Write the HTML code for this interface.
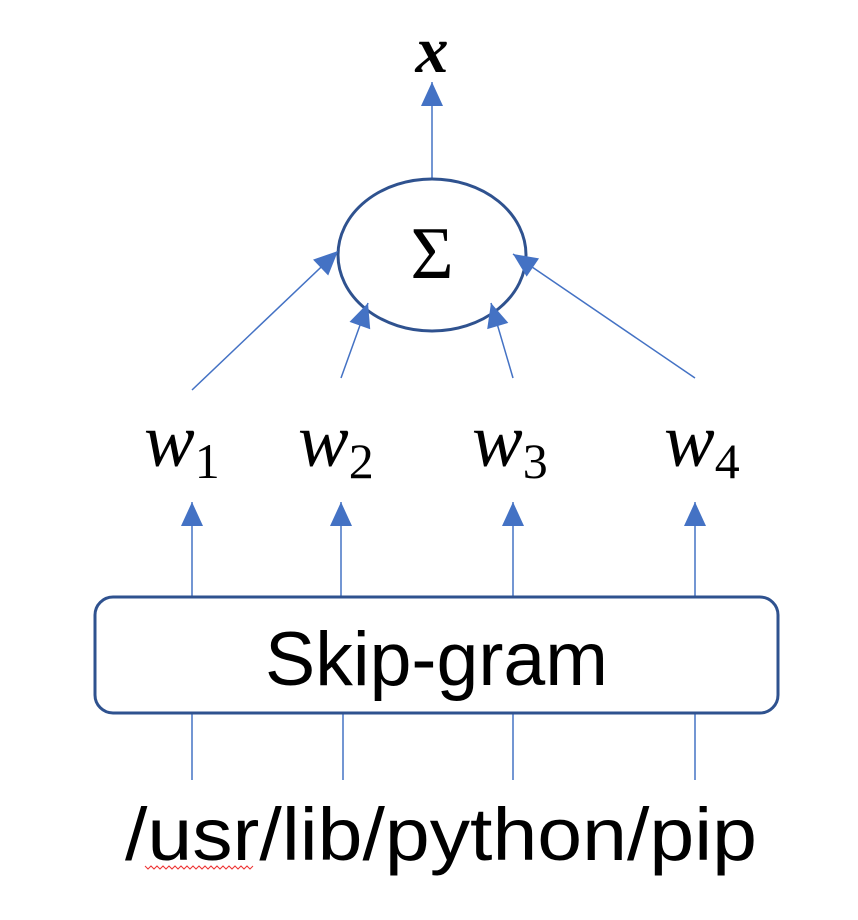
<!DOCTYPE html>
<html><head><meta charset="utf-8"><style>
body{margin:0;background:#fff;}
svg{display:block;}
</style></head><body>
<svg id="dg" width="858" height="920" viewBox="0 0 858 920">
<g id="lines" stroke="#4472C4" stroke-width="1.5" fill="none">
<line x1="432" y1="178" x2="432" y2="82"/>
<line x1="192" y1="390" x2="338" y2="251"/>
<line x1="341" y1="378" x2="368" y2="303"/>
<line x1="513" y1="378" x2="491" y2="303"/>
<line x1="695" y1="378" x2="513" y2="254"/>
<line x1="192" y1="598" x2="192" y2="502"/>
<line x1="341" y1="598" x2="341" y2="502"/>
<line x1="513" y1="598" x2="513" y2="502"/>
<line x1="695" y1="598" x2="695" y2="502"/>
</g>
<g stroke="#4472C4" stroke-width="1.5" fill="none">
<line x1="192" y1="713" x2="192" y2="780"/>
<line x1="343" y1="713" x2="343" y2="780"/>
<line x1="513" y1="713" x2="513" y2="780"/>
<line x1="695" y1="713" x2="695" y2="780"/>
</g>
<ellipse cx="432" cy="255" rx="94" ry="76" fill="none" stroke="#2F528F" stroke-width="3"/>
<g id="heads" fill="#4472C4"></g>
<text x="432" y="278" text-anchor="middle" font-family="Liberation Serif, serif" font-size="74">Σ</text>
<text x="432" y="72" text-anchor="middle" font-family="Liberation Serif, serif" font-style="italic" font-weight="bold" font-size="66">x</text>
<g font-family="Liberation Serif, serif" font-size="76">
<text x="144" y="466"><tspan font-style="italic">w</tspan><tspan font-size="50" dy="12">1</tspan></text>
<text x="298" y="466"><tspan font-style="italic">w</tspan><tspan font-size="50" dy="12">2</tspan></text>
<text x="472" y="466"><tspan font-style="italic">w</tspan><tspan font-size="50" dy="12">3</tspan></text>
<text x="664" y="466"><tspan font-style="italic">w</tspan><tspan font-size="50" dy="12">4</tspan></text>
</g>
<rect x="95" y="597" width="683" height="116" rx="18" fill="#fff" stroke="#2F528F" stroke-width="3"/>
<text x="265" y="685" font-family="Liberation Sans, sans-serif" font-size="76" textLength="343" lengthAdjust="spacingAndGlyphs">Skip-gram</text>
<text x="125" y="860" font-family="Liberation Sans, sans-serif" font-size="74" textLength="632" lengthAdjust="spacingAndGlyphs">/usr/lib/python/pip</text>
<path d="M145,866 l3,3 l3,-3 l3,3 l3,-3 l3,3 l3,-3 l3,3 l3,-3 l3,3 l3,-3 l3,3 l3,-3 l3,3 l3,-3 l3,3 l3,-3 l3,3 l3,-3 l3,3 l3,-3 l3,3 l3,-3 l3,3 l3,-3 l3,3 l3,-3 l3,3 l3,-3 l3,3 l3,-3 l3,3 l3,-3 l3,3 l3,-3 l3,3 l3,-3" fill="none" stroke="#e33" stroke-width="1"/>
</svg>
<script>
var ns='http://www.w3.org/2000/svg';
var heads=document.getElementById('heads');
document.querySelectorAll('#lines line').forEach(function(l){
  var x1=+l.getAttribute('x1'),y1=+l.getAttribute('y1'),x2=+l.getAttribute('x2'),y2=+l.getAttribute('y2');
  var dx=x2-x1,dy=y2-y1,len=Math.hypot(dx,dy),ux=dx/len,uy=dy/len;
  var L=24,W=11,bx=x2-ux*L,by=y2-uy*L;
  var p=document.createElementNS(ns,'polygon');
  p.setAttribute('points',x2+','+y2+' '+(bx-uy*W)+','+(by+ux*W)+' '+(bx+uy*W)+','+(by-ux*W));
  
  
  heads.appendChild(p);
});
</script>
</body></html>
